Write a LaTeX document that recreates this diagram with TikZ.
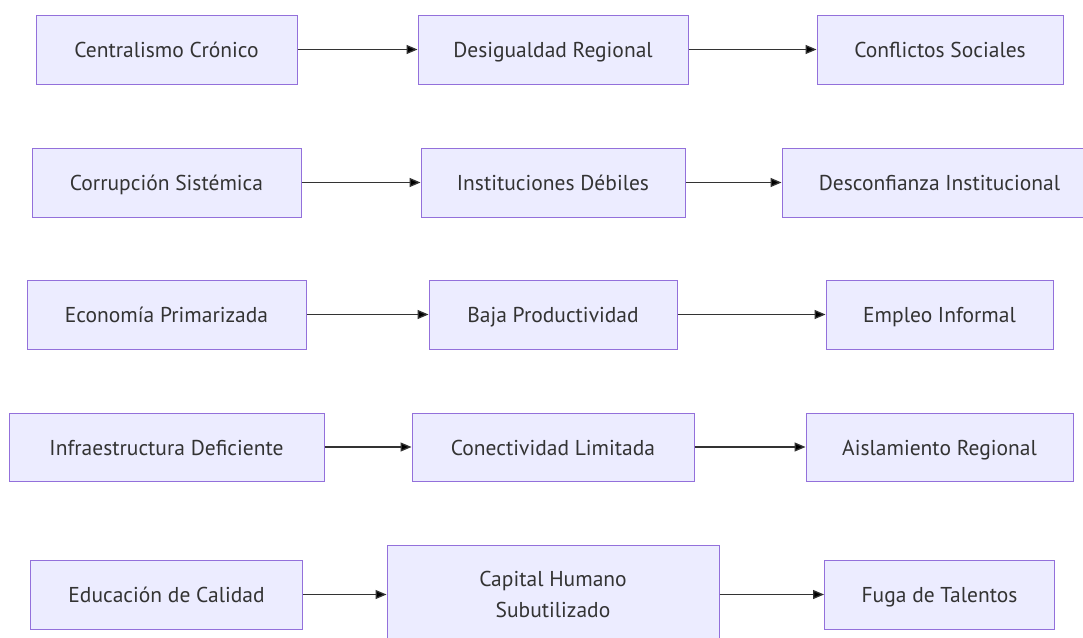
\documentclass[tikz,border=0pt]{standalone}
\usepackage{fontspec}
\setmainfont{PT Sans}
\usetikzlibrary{positioning}
\usetikzlibrary{arrows.meta}
\definecolor{nodefill}{HTML}{ECECFF}
\definecolor{nodeborder}{HTML}{9370DB}
\definecolor{textgray}{HTML}{333333}
\begin{document}
\begin{tikzpicture}[x=1pt,y=-1pt,
  block/.style={rectangle,draw=nodeborder,fill=nodefill,line width=1pt,inner sep=0pt,
    minimum height=69pt,text height=16pt,text depth=0pt,text=textgray,
    font=\fontsize{21.5}{31}\selectfont},
  bigblock/.style={block,text height=,text depth=,align=center,minimum height=99pt},
  link/.style={-{Triangle[length=11pt,width=9pt]},line width=1.3pt,draw=textgray}]

  \useasboundingbox (0,0) rectangle (1083,637);

  % 1. Zeile
  \node[block,minimum width=261pt] (CC) at (166.5,49.5) {Centralismo Crónico};
  \node[block,minimum width=270pt] (DR) [right=386.5pt of CC.center,anchor=center] {Desigualdad Regional};
  \node[block,minimum width=246pt] (CS) [right=387pt of DR.center,anchor=center] {Conflictos Sociales};

  % 2. Zeile
  \node[block,minimum width=269pt] (CSi) [below=133pt of CC.center,anchor=center] {Corrupción Sistémica};
  \node[block,minimum width=264pt] (ID)  [right=386.5pt of CSi.center,anchor=center] {Instituciones Débiles};
  \node[block,minimum width=315pt] (DI)  [right=386.5pt of ID.center,anchor=center] {Desconfianza Institucional};

  % 3. Zeile
  \node[block,minimum width=279pt] (EP) [below=132pt of CSi.center,anchor=center] {Economía Primarizada};
  \node[block,minimum width=248pt] (BP) [right=386.5pt of EP.center,anchor=center] {Baja Productividad};
  \node[block,minimum width=227pt] (EI) [right=386.5pt of BP.center,anchor=center] {Empleo Informal};

  % 4. Zeile
  \node[block,minimum width=315pt,minimum height=68pt] (IDf) [below=132.5pt of EP.center,anchor=center] {Infraestructura Deficiente};
  \node[block,minimum width=282pt,minimum height=68pt] (CL)  [right=386.5pt of IDf.center,anchor=center] {Conectividad Limitada};
  \node[block,minimum width=267pt,minimum height=68pt] (AR)  [right=386.5pt of CL.center,anchor=center] {Aislamiento Regional};

  % 5. Zeile
  \node[block,minimum width=272pt] (EC) [below=147.5pt of IDf.center,anchor=center] {Educación de Calidad};
  \node[bigblock,minimum width=332pt] (CH) [right=386.5pt of EC.center,anchor=center] {Capital Humano\\Subutilizado};
  \node[block,minimum width=230pt] (FT) [right=386.5pt of CH.center,anchor=center] {Fuga de Talentos};

  \path[link]
    (CC)  edge (DR)
    (DR)  edge (CS)
    (CSi) edge (ID)
    (ID)  edge (DI)
    (EP)  edge (BP)
    (BP)  edge (EI)
    (IDf) edge (CL)
    (CL)  edge (AR)
    (EC)  edge (CH)
    (CH)  edge (FT);

\end{tikzpicture}
\end{document}
